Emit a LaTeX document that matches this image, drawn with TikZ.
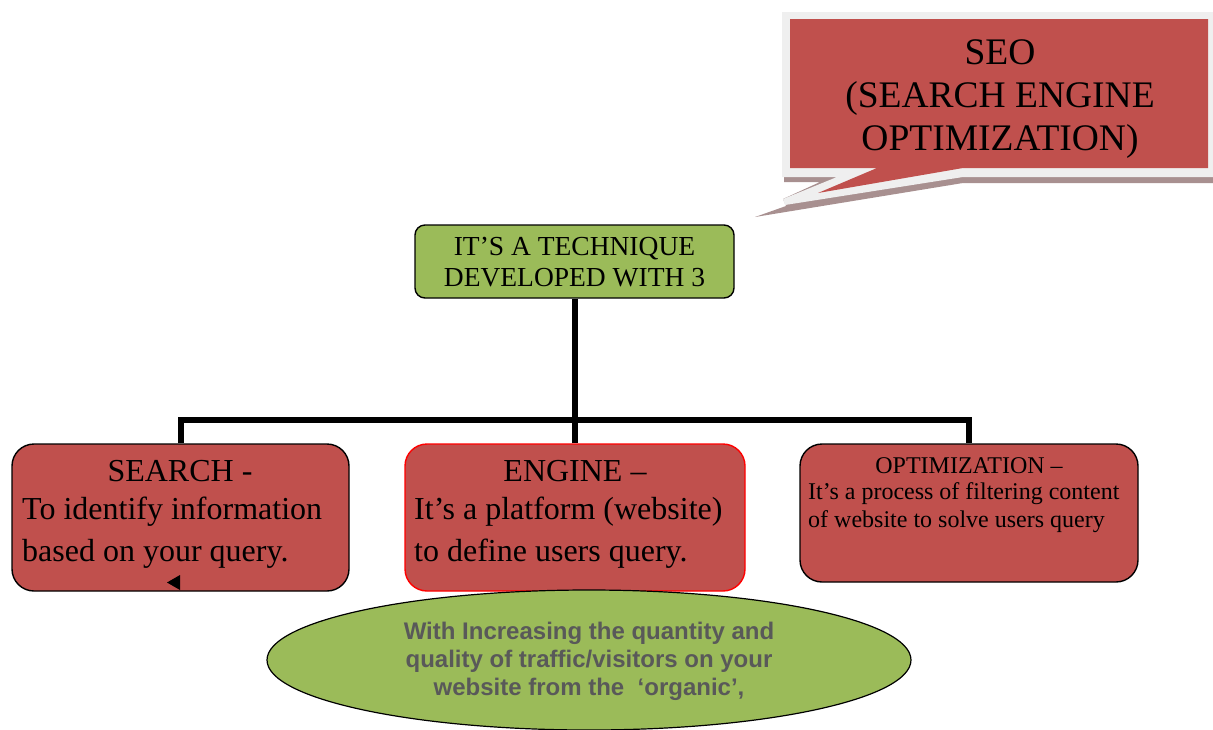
\documentclass[tikz,border=0pt]{standalone}
\usepackage{fontspec}
\setmainfont{Liberation Serif}
\newfontfamily\ellipsefont{Liberation Sans}
\usetikzlibrary{shapes.geometric}
\definecolor{boxred}{HTML}{C0504D}
\definecolor{boxgreen}{HTML}{9BBB59}
\definecolor{txtgray}{HTML}{595959}
\definecolor{calloutgrey}{HTML}{EFEFEF}
\definecolor{calloutshadow}{HTML}{A89090}
\tikzset{
  redbox/.style={draw=black, line width=1.4pt, fill=boxred, rounded corners=22pt, inner sep=0pt},
  greenbox/.style={draw=black, line width=1.4pt, fill=boxgreen, rounded corners=10pt, inner sep=0pt},
  conn/.style={line width=6pt, black, line join=miter},
  bigtxt/.style={font=\fontsize{32}{42}\selectfont, inner sep=0pt},
  smalltxt/.style={font=\fontsize{24}{28}\selectfont, inner sep=0pt},
}
\begin{document}
\begin{tikzpicture}[x=1pt,y=-1pt]
\useasboundingbox (0,0) rectangle (1213,729);
% callout
\fill[calloutshadow] (784,177) -- (1213,177) -- (1213,183) -- (963,183) -- (755,217) -- (786,206) -- (783,199) -- (820,182) -- (784,182) -- cycle;
\fill[calloutgrey] (782,12) -- (1213,12) -- (1213,177) -- (963,177) -- (785,205) -- (783,199) -- (837,177) -- (782,177) -- cycle;
\fill[boxred] (790,19) -- (1208,19) -- (1208,168) -- (963,168) -- (818,193) -- (877,168) -- (790,168) -- cycle;
\node[font=\fontsize{37.5}{43}\selectfont, align=center, inner sep=0pt] (seo) at (1000,99) {SEO\\(SEARCH ENGINE\\OPTIMIZATION)};
% boxes
\node[greenbox, minimum width=319pt, minimum height=73pt] (tech) at (574.5,261.5) {};
\node[font=\fontsize{27.5}{31}\selectfont, align=center, inner sep=0pt] (techtxt) at (574.5,262) {IT'S A TECHNIQUE\\DEVELOPED WITH 3};
\node[redbox, minimum width=337pt, minimum height=147pt] (search) at (180.5,517.5) {};
\node[redbox, draw=red, minimum width=340pt, minimum height=147pt] (engine) at (575,517.5) {};
\node[redbox, minimum width=338pt, minimum height=138pt] (opt) at (969,513) {};
\coordinate (bus) at (575,420);
\draw[conn] (tech.south) -- (tech.south |- bus);
\draw[conn] (search.north) |- (opt.north |- bus) -- (opt.north);
\draw[conn] (engine.north) -- (engine.north |- bus);
% texts
\node[bigtxt] (searcht) at (180,471) {SEARCH -};
\node[bigtxt, anchor=west, align=left] (searchb) at (22,533) {To identify information\\based on your query.};
\node[bigtxt] (enginet) at (575,471) {ENGINE --};
\node[bigtxt, anchor=west, align=left] (engineb) at (414,533) {It’s a platform (website)\\to define users query.};
\node[smalltxt] (optt) at (969,466) {OPTIMIZATION --};
\node[smalltxt, anchor=west, align=left] (optb) at (808,508) {It’s a process of filtering content\\of website to solve users query};
\fill[black] (180,575) -- (167,582.5) -- (180,590) -- cycle;
% ellipse
\node[ellipse, draw=black, line width=1.2pt, fill=boxgreen, minimum width=644pt, minimum height=140pt, inner sep=0pt] (organic) at (589,660) {};
\node[font=\ellipsefont\bfseries\fontsize{24}{28}\selectfont, text=txtgray, align=center, inner sep=0pt] (organict) at (589,661) {With Increasing the quantity and\\quality of traffic/visitors on your\\website from the~ ‘organic’,};
\end{tikzpicture}
\end{document}
